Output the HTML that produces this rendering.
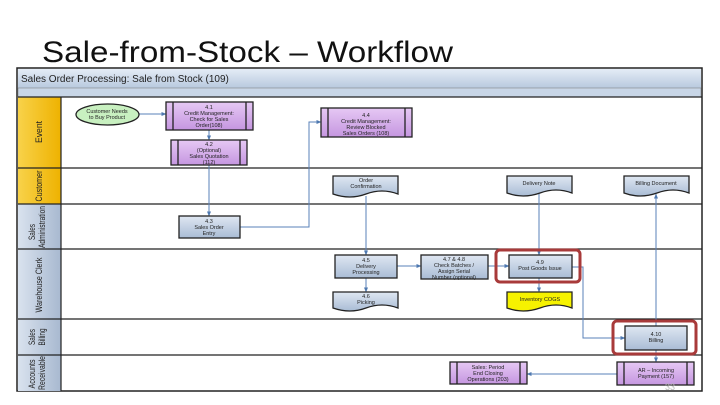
<!DOCTYPE html>
<html><head><meta charset="utf-8"><style>
html,body{margin:0;padding:0;background:#fff;width:720px;height:405px;overflow:hidden}
svg text{font-family:"Liberation Sans",sans-serif}
</style></head><body>
<svg width="720" height="405" viewBox="0 0 720 405" xmlns="http://www.w3.org/2000/svg">
<defs>
<linearGradient id="hdr" x1="0" y1="0" x2="0" y2="1"><stop offset="0" stop-color="#e4ecf6"/><stop offset="1" stop-color="#b8c9de"/></linearGradient>
<linearGradient id="bx" x1="0" y1="0" x2="0" y2="1"><stop offset="0" stop-color="#dfe7f2"/><stop offset="1" stop-color="#a9bcd5"/></linearGradient>
<linearGradient id="pu" x1="0" y1="0" x2="0" y2="1"><stop offset="0" stop-color="#e6c8f4"/><stop offset="1" stop-color="#c596e0"/></linearGradient>
<linearGradient id="lane" x1="0" y1="0" x2="1" y2="0"><stop offset="0" stop-color="#d9e2ee"/><stop offset="1" stop-color="#a8b9d0"/></linearGradient>
<linearGradient id="ylw" x1="0" y1="0" x2="1" y2="0"><stop offset="0" stop-color="#f8d24a"/><stop offset="1" stop-color="#eeb200"/></linearGradient>
<marker id="ar" viewBox="0 0 10 10" refX="9" refY="5" markerWidth="5" markerHeight="5" orient="auto"><path d="M0,1 L10,5 L0,9 z" fill="#4f79b0"/></marker>
</defs>
<text x="42" y="62" font-size="30" fill="#111" textLength="411" lengthAdjust="spacingAndGlyphs">Sale-from-Stock – Workflow</text>
<!-- frame -->
<rect x="17" y="68" width="685" height="323" fill="#fff" stroke="#222" stroke-width="1.5"/>
<rect x="18" y="69" width="683" height="19" fill="url(#hdr)"/>
<text x="21" y="82" font-size="10" fill="#222">Sales Order Processing: Sale from Stock (109)</text>
<rect x="18" y="88" width="683" height="9" fill="#c8d6e7" stroke="#777" stroke-width="0.5"/>
<!-- lanes -->
<rect x="18" y="97" width="43" height="71" fill="url(#ylw)"/>
<rect x="18" y="168" width="43" height="36" fill="url(#ylw)"/>
<rect x="18" y="204" width="43" height="45" fill="url(#lane)"/>
<rect x="18" y="249" width="43" height="70" fill="url(#lane)"/>
<rect x="18" y="319" width="43" height="36" fill="url(#lane)"/>
<rect x="18" y="355" width="43" height="36" fill="url(#lane)"/>
<g stroke="#222" stroke-width="1.2">
<line x1="18" y1="97" x2="702" y2="97"/><line x1="18" y1="168" x2="702" y2="168"/>
<line x1="18" y1="204" x2="702" y2="204"/><line x1="18" y1="249" x2="702" y2="249"/>
<line x1="18" y1="319" x2="702" y2="319"/><line x1="18" y1="355" x2="702" y2="355"/>
<line x1="61" y1="97" x2="61" y2="391"/>
</g>
<g font-size="9" fill="#222" text-anchor="middle" lengthAdjust="spacingAndGlyphs">
<text transform="translate(42,132) rotate(-90)" textLength="22" lengthAdjust="spacingAndGlyphs">Event</text>
<text transform="translate(42,186) rotate(-90)" textLength="31" lengthAdjust="spacingAndGlyphs">Customer</text>
<text transform="translate(35,232) rotate(-90)" textLength="16" lengthAdjust="spacingAndGlyphs">Sales</text>
<text transform="translate(45,227) rotate(-90)" textLength="42" lengthAdjust="spacingAndGlyphs">Administration</text>
<text transform="translate(42,285) rotate(-90)" textLength="55" lengthAdjust="spacingAndGlyphs">Warehouse Clerk</text>
<text transform="translate(35,337) rotate(-90)" textLength="16" lengthAdjust="spacingAndGlyphs">Sales</text>
<text transform="translate(45,337) rotate(-90)" textLength="17" lengthAdjust="spacingAndGlyphs">Billing</text>
<text transform="translate(35,374) rotate(-90)" textLength="29" lengthAdjust="spacingAndGlyphs">Accounts</text>
<text transform="translate(45,373) rotate(-90)" textLength="34" lengthAdjust="spacingAndGlyphs">Receivable</text>
</g>
<!-- connectors -->
<g stroke="#5a82b8" stroke-width="1" fill="none" marker-end="url(#ar)">
<line x1="139" y1="114" x2="166" y2="114"/>
<line x1="209" y1="130" x2="209" y2="140"/>
<line x1="209" y1="165" x2="209" y2="216"/>
<polyline points="240,227 309,227 309,122 321,122"/>
<line x1="366" y1="196" x2="366" y2="255"/>
<line x1="366" y1="278" x2="366" y2="292"/>
<line x1="397" y1="266" x2="421" y2="266"/>
<line x1="488" y1="266" x2="509" y2="266"/>
<line x1="539" y1="193" x2="539" y2="255"/>
<line x1="539" y1="278" x2="539" y2="292"/>
<polyline points="572,267 583,267 583,338 625,338"/>
<line x1="656" y1="326" x2="656" y2="194"/>
<line x1="656" y1="350" x2="656" y2="362"/>
<line x1="617" y1="374" x2="527" y2="374"/>
</g>
<ellipse cx="107.5" cy="114.5" rx="31.5" ry="10.5" fill="#c8f0c0" stroke="#222" stroke-width="1.3"/>
<g font-size="5.5" fill="#222" text-anchor="middle">
<text x="107" y="113">Customer Needs</text><text x="107" y="119">to Buy Product</text>
</g>
<g stroke="#222" stroke-width="1.3" fill="url(#pu)">
<rect x="166" y="102" width="87" height="28"/><rect x="171" y="140" width="76" height="25"/>
<rect x="321" y="108" width="91" height="29"/><rect x="617" y="362" width="77" height="23"/>
<rect x="450" y="362" width="77" height="22"/>
</g>
<g stroke="#222" stroke-width="1.3">
<line x1="173" y1="102" x2="173" y2="130"/><line x1="246" y1="102" x2="246" y2="130"/>
<line x1="178" y1="140" x2="178" y2="165"/><line x1="240" y1="140" x2="240" y2="165"/>
<line x1="328" y1="108" x2="328" y2="137"/><line x1="405" y1="108" x2="405" y2="137"/>
<line x1="624" y1="362" x2="624" y2="385"/><line x1="687" y1="362" x2="687" y2="385"/>
<line x1="457" y1="362" x2="457" y2="384"/><line x1="520" y1="362" x2="520" y2="384"/>
</g>
<g stroke="#222" stroke-width="1.3" fill="url(#bx)">
<rect x="179" y="216" width="61" height="22"/><rect x="335" y="255" width="62" height="23"/>
<rect x="421" y="255" width="67" height="24"/><rect x="509" y="255" width="63" height="23"/>
<rect x="625" y="326" width="62" height="24"/>
</g>
<g stroke="#222" stroke-width="1.3" fill="url(#bx)">
<path d="M333,176 H398 V194 Q382,188 366,194 Q350,200 333,194 Z"/>
<path d="M507,176 H572 V193 Q556,187 540,193 Q523,199 507,193 Z"/>
<path d="M624,176 H689 V193 Q673,187 657,193 Q640,199 624,193 Z"/>
<path d="M333,292 H398 V308 Q382,302 366,308 Q350,314 333,308 Z"/>
<path d="M507,292 H572 V308 Q556,302 540,308 Q523,314 507,308 Z" fill="#f6f200"/>
</g>
<rect x="496" y="250" width="84" height="32" rx="4" fill="none" stroke="#a83a3a" stroke-width="3"/>
<rect x="613" y="321" width="83" height="33" rx="4" fill="none" stroke="#a83a3a" stroke-width="3"/>
<g font-size="5.5" fill="#222" text-anchor="middle">
<text x="209" y="109">4.1</text><text x="209" y="115">Credit Management:</text><text x="209" y="121">Check for Sales</text><text x="209" y="127">Order(108)</text>
<text x="209" y="146">4.2</text><text x="209" y="152">(Optional)</text><text x="209" y="158">Sales Quotation</text><text x="209" y="164">(112)</text>
<text x="209" y="223">4.3</text><text x="209" y="229">Sales Order</text><text x="209" y="235">Entry</text>
<text x="366" y="117">4.4</text><text x="366" y="123">Credit Management:</text><text x="366" y="129">Review Blocked</text><text x="366" y="135">Sales Orders (108)</text>
<text x="366" y="182">Order</text><text x="366" y="188">Confirmation</text>
<text x="539" y="185">Delivery Note</text>
<text x="656" y="185">Billing Document</text>
<text x="366" y="262">4.5</text><text x="366" y="268">Delivery</text><text x="366" y="274">Processing</text>
<text x="454" y="261">4.7 &amp; 4.8</text><text x="454" y="267">Check Batches /</text><text x="454" y="273">Assign Serial</text><text x="454" y="279">Number (optional)</text>
<text x="540" y="264">4.9</text><text x="540" y="270">Post Goods Issue</text>
<text x="366" y="298">4.6</text><text x="366" y="304">Picking</text>
<text x="540" y="301">Inventory COGS</text>
<text x="656" y="336">4.10</text><text x="656" y="342">Billing</text>
<text x="488" y="369">Sales: Period</text><text x="488" y="375">End Closing</text><text x="488" y="381">Operations (203)</text>
<text x="656" y="372">AR – Incoming</text><text x="656" y="378">Payment (157)</text>
</g>
<text x="665" y="390" font-size="9" fill="#bbb">33</text>
</svg>
</body></html>
